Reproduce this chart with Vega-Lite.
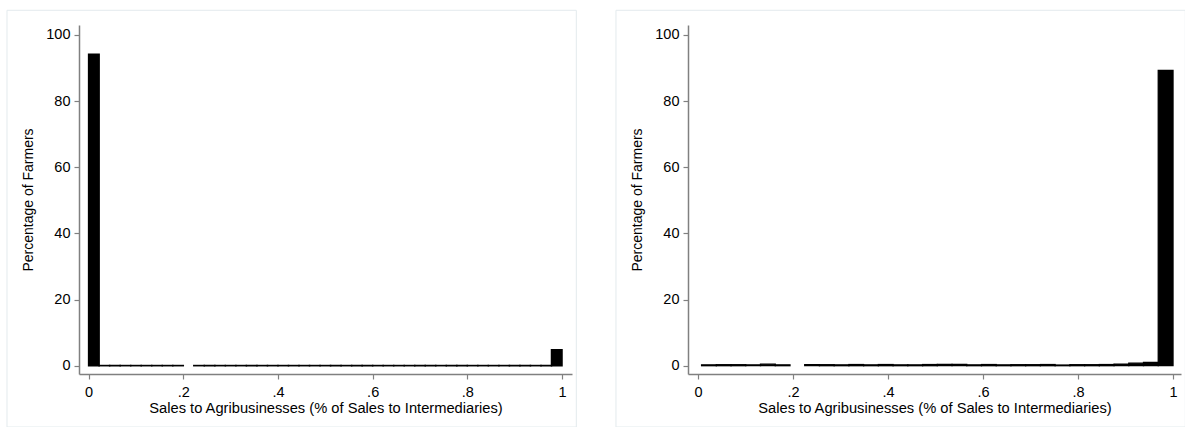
{
  "$schema": "https://vega.github.io/schema/vega-lite/v6.json",
  "autosize": {"type": "pad"},
  "padding": {"left": 6, "top": 9, "right": 0, "bottom": 0},
  "background": "white",
  "spacing": 38,
  "config": {
    "view": {"stroke": null},
    "font": "Liberation Sans",
    "axis": {
      "grid": false,
      "domainColor": "#808080",
      "domainWidth": 1.5,
      "tickColor": "#808080",
      "tickWidth": 1.2,
      "tickSize": 5,
      "labelColor": "black",
      "labelFont": "Liberation Sans",
      "labelFontSize": 14.5,
      "titleFont": "Liberation Sans",
      "titleFontSize": 14,
      "titleFontWeight": "normal",
      "titleColor": "black",
      "labelFlush": false,
      "labelOverlap": false
    }
  },
  "datasets": {
    "left": [
      {"bin_start": 0.0, "bin_end": 0.0222, "percent": 94.2},
      {"bin_start": 0.0222, "bin_end": 0.0444, "percent": 0.05},
      {"bin_start": 0.0444, "bin_end": 0.0667, "percent": 0.05},
      {"bin_start": 0.0667, "bin_end": 0.0889, "percent": 0.05},
      {"bin_start": 0.0889, "bin_end": 0.1111, "percent": 0.05},
      {"bin_start": 0.1111, "bin_end": 0.1333, "percent": 0.05},
      {"bin_start": 0.1333, "bin_end": 0.1556, "percent": 0.05},
      {"bin_start": 0.1556, "bin_end": 0.1778, "percent": 0.05},
      {"bin_start": 0.1778, "bin_end": 0.2, "percent": 0.05},
      {"bin_start": 0.2222, "bin_end": 0.2444, "percent": 0.05},
      {"bin_start": 0.2444, "bin_end": 0.2667, "percent": 0.05},
      {"bin_start": 0.2667, "bin_end": 0.2889, "percent": 0.05},
      {"bin_start": 0.2889, "bin_end": 0.3111, "percent": 0.05},
      {"bin_start": 0.3111, "bin_end": 0.3333, "percent": 0.05},
      {"bin_start": 0.3333, "bin_end": 0.3556, "percent": 0.05},
      {"bin_start": 0.3556, "bin_end": 0.3778, "percent": 0.05},
      {"bin_start": 0.3778, "bin_end": 0.4, "percent": 0.05},
      {"bin_start": 0.4, "bin_end": 0.4222, "percent": 0.05},
      {"bin_start": 0.4222, "bin_end": 0.4444, "percent": 0.05},
      {"bin_start": 0.4444, "bin_end": 0.4667, "percent": 0.05},
      {"bin_start": 0.4667, "bin_end": 0.4889, "percent": 0.05},
      {"bin_start": 0.4889, "bin_end": 0.5111, "percent": 0.05},
      {"bin_start": 0.5111, "bin_end": 0.5333, "percent": 0.05},
      {"bin_start": 0.5333, "bin_end": 0.5556, "percent": 0.05},
      {"bin_start": 0.5556, "bin_end": 0.5778, "percent": 0.05},
      {"bin_start": 0.5778, "bin_end": 0.6, "percent": 0.05},
      {"bin_start": 0.6, "bin_end": 0.6222, "percent": 0.05},
      {"bin_start": 0.6222, "bin_end": 0.6444, "percent": 0.05},
      {"bin_start": 0.6444, "bin_end": 0.6667, "percent": 0.05},
      {"bin_start": 0.6667, "bin_end": 0.6889, "percent": 0.05},
      {"bin_start": 0.6889, "bin_end": 0.7111, "percent": 0.05},
      {"bin_start": 0.7111, "bin_end": 0.7333, "percent": 0.05},
      {"bin_start": 0.7333, "bin_end": 0.7556, "percent": 0.05},
      {"bin_start": 0.7556, "bin_end": 0.7778, "percent": 0.05},
      {"bin_start": 0.7778, "bin_end": 0.8, "percent": 0.05},
      {"bin_start": 0.8, "bin_end": 0.8222, "percent": 0.05},
      {"bin_start": 0.8222, "bin_end": 0.8444, "percent": 0.05},
      {"bin_start": 0.8444, "bin_end": 0.8667, "percent": 0.05},
      {"bin_start": 0.8667, "bin_end": 0.8889, "percent": 0.05},
      {"bin_start": 0.8889, "bin_end": 0.9111, "percent": 0.05},
      {"bin_start": 0.9111, "bin_end": 0.9333, "percent": 0.05},
      {"bin_start": 0.9333, "bin_end": 0.9556, "percent": 0.05},
      {"bin_start": 0.9556, "bin_end": 0.9778, "percent": 0.05},
      {"bin_start": 0.9778, "bin_end": 1.0, "percent": 4.8}
    ],
    "right": [
      {"bin_start": 0.0076, "bin_end": 0.0386, "percent": 0.25},
      {"bin_start": 0.0386, "bin_end": 0.0696, "percent": 0.3},
      {"bin_start": 0.0696, "bin_end": 0.1006, "percent": 0.3},
      {"bin_start": 0.1006, "bin_end": 0.1316, "percent": 0.25},
      {"bin_start": 0.1316, "bin_end": 0.1627, "percent": 0.45},
      {"bin_start": 0.1627, "bin_end": 0.1937, "percent": 0.25},
      {"bin_start": 0.2247, "bin_end": 0.2557, "percent": 0.3},
      {"bin_start": 0.2557, "bin_end": 0.2867, "percent": 0.3},
      {"bin_start": 0.2867, "bin_end": 0.3177, "percent": 0.25},
      {"bin_start": 0.3177, "bin_end": 0.3487, "percent": 0.35},
      {"bin_start": 0.3487, "bin_end": 0.3797, "percent": 0.25},
      {"bin_start": 0.3797, "bin_end": 0.4107, "percent": 0.35},
      {"bin_start": 0.4107, "bin_end": 0.4417, "percent": 0.25},
      {"bin_start": 0.4417, "bin_end": 0.4728, "percent": 0.25},
      {"bin_start": 0.4728, "bin_end": 0.5038, "percent": 0.35},
      {"bin_start": 0.5038, "bin_end": 0.5348, "percent": 0.4},
      {"bin_start": 0.5348, "bin_end": 0.5658, "percent": 0.4},
      {"bin_start": 0.5658, "bin_end": 0.5968, "percent": 0.25},
      {"bin_start": 0.5968, "bin_end": 0.6278, "percent": 0.35},
      {"bin_start": 0.6278, "bin_end": 0.6588, "percent": 0.25},
      {"bin_start": 0.6588, "bin_end": 0.6898, "percent": 0.3},
      {"bin_start": 0.6898, "bin_end": 0.7208, "percent": 0.3},
      {"bin_start": 0.7208, "bin_end": 0.7518, "percent": 0.35},
      {"bin_start": 0.7518, "bin_end": 0.7829, "percent": 0.2},
      {"bin_start": 0.7829, "bin_end": 0.8139, "percent": 0.3},
      {"bin_start": 0.8139, "bin_end": 0.8449, "percent": 0.3},
      {"bin_start": 0.8449, "bin_end": 0.8759, "percent": 0.35},
      {"bin_start": 0.8759, "bin_end": 0.9069, "percent": 0.5},
      {"bin_start": 0.9069, "bin_end": 0.9379, "percent": 0.75},
      {"bin_start": 0.9379, "bin_end": 0.9689, "percent": 1.0},
      {"bin_start": 0.9689, "bin_end": 1.0, "percent": 89.3}
    ]
  },
  "hconcat": [
    {
      "width": 493,
      "height": 349,
      "layer": [
        {
          "data": {"name": "left"},
          "mark": {"type": "bar", "color": "black", "stroke": "black", "strokeWidth": 1.5},
          "encoding": {
            "x": {
              "field": "bin_start", "type": "quantitative",
              "scale": {"domain": [-0.0203, 1.0211], "nice": false, "zero": false},
              "axis": {
                "values": [0, 0.2, 0.4, 0.6, 0.8, 1],
                "labelPadding": 6,
                "titlePadding": 2,
                "titleFontSize": 14.7,
                "labelExpr": "datum.value == 0 ? '0' : datum.value == 1 ? '1' : replace(format(datum.value, '.1f'), '0.', '.')"
              },
              "title": "Sales to Agribusinesses (% of Sales to Intermediaries)"
            },
            "x2": {"field": "bin_end"},
            "y": {
              "field": "percent", "type": "quantitative",
              "scale": {"domain": [-2.51, 103.02], "nice": false, "zero": false},
              "axis": {"values": [0, 20, 40, 60, 80, 100], "labelPadding": 4, "titlePadding": 10},
              "title": "Percentage of Farmers"
            },
            "y2": {"datum": 0}
          }
        },
        {
          "data": {"values": [{}]},
          "mark": {"type": "rect", "fill": null, "stroke": "#e3eaed", "strokeWidth": 1},
          "encoding": {
            "x": {"datum": -0.1724, "type": "quantitative"},
            "x2": {"datum": 1.0302},
            "y": {"datum": 107.47, "type": "quantitative"},
            "y2": {"datum": -18.54}
          }
        }
      ]
    },
    {
      "width": 493,
      "height": 349,
      "layer": [
        {
          "data": {"name": "right"},
          "mark": {"type": "bar", "color": "black", "stroke": "black", "strokeWidth": 1.3},
          "encoding": {
            "x": {
              "field": "bin_start", "type": "quantitative",
              "scale": {"domain": [-0.021, 1.0168], "nice": false, "zero": false},
              "axis": {
                "values": [0, 0.2, 0.4, 0.6, 0.8, 1],
                "labelPadding": 6,
                "titlePadding": 2,
                "titleFontSize": 14.7,
                "labelExpr": "datum.value == 0 ? '0' : datum.value == 1 ? '1' : replace(format(datum.value, '.1f'), '0.', '.')"
              },
              "title": "Sales to Agribusinesses (% of Sales to Intermediaries)"
            },
            "x2": {"field": "bin_end"},
            "y": {
              "field": "percent", "type": "quantitative",
              "scale": {"domain": [-2.51, 103.02], "nice": false, "zero": false},
              "axis": {"values": [0, 20, 40, 60, 80, 100], "labelPadding": 4, "titlePadding": 10},
              "title": "Percentage of Farmers"
            },
            "y2": {"datum": 0}
          }
        },
        {
          "data": {"values": [{}]},
          "mark": {"type": "rect", "fill": null, "stroke": "#e3eaed", "strokeWidth": 1},
          "encoding": {
            "x": {"datum": -0.1726, "type": "quantitative"},
            "x2": {"datum": 1.0259},
            "y": {"datum": 107.47, "type": "quantitative"},
            "y2": {"datum": -18.54}
          }
        }
      ]
    }
  ]
}
